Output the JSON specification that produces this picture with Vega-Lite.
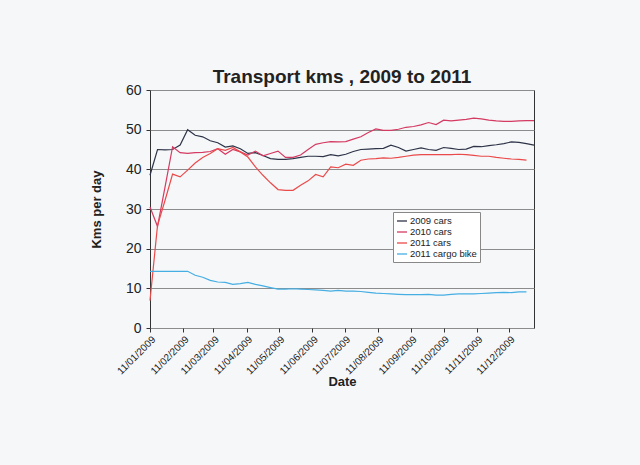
{
  "$schema": "https://vega.github.io/schema/vega-lite/v6.json",
  "width": 384,
  "height": 238,
  "autosize": {"type": "none"},
  "padding": {"left": 150, "top": 90, "right": 106, "bottom": 137},
  "background": "#f6f7f9",
  "config": {
    "font": "Liberation Sans",
    "view": {"stroke": "#333333", "strokeWidth": 1, "fill": "#f6f7f9"}
  },
  "title": {"text": "Transport kms , 2009 to 2011", "fontSize": 19, "fontWeight": "bold", "color": "#222222", "offset": -4},
  "data": {
    "values": [
      {"date": "2009-01-11", "c2009": 38.5, "c2010": 30.5, "c2011": 6.9, "bike": 14.3},
      {"date": "2009-01-18", "c2009": 45.0, "c2010": 25.6, "c2011": 25.9, "bike": 14.3},
      {"date": "2009-01-25", "c2009": 44.9, "c2010": 35.6, "c2011": 32.2, "bike": 14.3},
      {"date": "2009-02-01", "c2009": 45.0, "c2010": 45.7, "c2011": 38.8, "bike": 14.3},
      {"date": "2009-02-08", "c2009": 46.1, "c2010": 44.2, "c2011": 38.1, "bike": 14.3},
      {"date": "2009-02-15", "c2009": 50.0, "c2010": 44.0, "c2011": 39.8, "bike": 14.3},
      {"date": "2009-02-22", "c2009": 48.6, "c2010": 44.2, "c2011": 41.6, "bike": 13.3},
      {"date": "2009-03-01", "c2009": 48.2, "c2010": 44.3, "c2011": 43.0, "bike": 12.8},
      {"date": "2009-03-08", "c2009": 47.2, "c2010": 44.5, "c2011": 44.0, "bike": 12.0},
      {"date": "2009-03-15", "c2009": 46.7, "c2010": 45.2, "c2011": 45.2, "bike": 11.6},
      {"date": "2009-03-22", "c2009": 45.6, "c2010": 43.8, "c2011": 44.8, "bike": 11.5},
      {"date": "2009-03-29", "c2009": 45.9, "c2010": 45.0, "c2011": 45.5, "bike": 11.0},
      {"date": "2009-04-05", "c2009": 45.2, "c2010": 44.4, "c2011": 44.4, "bike": 11.2},
      {"date": "2009-04-12", "c2009": 44.0, "c2010": 43.6, "c2011": 43.1, "bike": 11.5},
      {"date": "2009-04-19", "c2009": 44.2, "c2010": 44.6, "c2011": 40.6, "bike": 11.0},
      {"date": "2009-04-26", "c2009": 43.5, "c2010": 43.4, "c2011": 38.5, "bike": 10.6},
      {"date": "2009-05-03", "c2009": 42.7, "c2010": 44.0, "c2011": 36.6, "bike": 10.2},
      {"date": "2009-05-10", "c2009": 42.5, "c2010": 44.6, "c2011": 34.9, "bike": 9.8},
      {"date": "2009-05-17", "c2009": 42.5, "c2010": 43.0, "c2011": 34.7, "bike": 9.8},
      {"date": "2009-05-24", "c2009": 42.7, "c2010": 43.0, "c2011": 34.7, "bike": 9.9},
      {"date": "2009-05-31", "c2009": 43.0, "c2010": 43.6, "c2011": 36.0, "bike": 9.8},
      {"date": "2009-06-07", "c2009": 43.3, "c2010": 45.0, "c2011": 37.1, "bike": 9.7},
      {"date": "2009-06-14", "c2009": 43.3, "c2010": 46.3, "c2011": 38.7, "bike": 9.6},
      {"date": "2009-06-21", "c2009": 43.2, "c2010": 46.7, "c2011": 38.1, "bike": 9.5},
      {"date": "2009-06-28", "c2009": 43.7, "c2010": 47.0, "c2011": 40.6, "bike": 9.3},
      {"date": "2009-07-05", "c2009": 43.4, "c2010": 46.9, "c2011": 40.4, "bike": 9.5},
      {"date": "2009-07-12", "c2009": 43.8, "c2010": 47.0, "c2011": 41.3, "bike": 9.3},
      {"date": "2009-07-19", "c2009": 44.5, "c2010": 47.6, "c2011": 41.0, "bike": 9.3},
      {"date": "2009-07-26", "c2009": 45.0, "c2010": 48.2, "c2011": 42.3, "bike": 9.2},
      {"date": "2009-08-02", "c2009": 45.1, "c2010": 49.3, "c2011": 42.6, "bike": 9.0},
      {"date": "2009-08-09", "c2009": 45.2, "c2010": 50.2, "c2011": 42.7, "bike": 8.8},
      {"date": "2009-08-16", "c2009": 45.3, "c2010": 49.8, "c2011": 42.9, "bike": 8.7},
      {"date": "2009-08-23", "c2009": 46.1, "c2010": 49.8, "c2011": 42.8, "bike": 8.6},
      {"date": "2009-08-30", "c2009": 45.5, "c2010": 50.1, "c2011": 43.0, "bike": 8.5},
      {"date": "2009-09-06", "c2009": 44.6, "c2010": 50.6, "c2011": 43.3, "bike": 8.4},
      {"date": "2009-09-13", "c2009": 45.0, "c2010": 50.8, "c2011": 43.6, "bike": 8.4},
      {"date": "2009-09-20", "c2009": 45.4, "c2010": 51.2, "c2011": 43.7, "bike": 8.4},
      {"date": "2009-09-27", "c2009": 45.0, "c2010": 51.8, "c2011": 43.7, "bike": 8.5},
      {"date": "2009-10-04", "c2009": 44.8, "c2010": 51.3, "c2011": 43.7, "bike": 8.3},
      {"date": "2009-10-11", "c2009": 45.5, "c2010": 52.4, "c2011": 43.7, "bike": 8.3},
      {"date": "2009-10-18", "c2009": 45.3, "c2010": 52.2, "c2011": 43.7, "bike": 8.5},
      {"date": "2009-10-25", "c2009": 45.0, "c2010": 52.4, "c2011": 43.8, "bike": 8.6},
      {"date": "2009-11-01", "c2009": 45.1, "c2010": 52.6, "c2011": 43.7, "bike": 8.6},
      {"date": "2009-11-08", "c2009": 45.8, "c2010": 52.9, "c2011": 43.5, "bike": 8.6},
      {"date": "2009-11-15", "c2009": 45.7, "c2010": 52.7, "c2011": 43.3, "bike": 8.7},
      {"date": "2009-11-22", "c2009": 46.0, "c2010": 52.4, "c2011": 43.3, "bike": 8.8},
      {"date": "2009-11-29", "c2009": 46.2, "c2010": 52.2, "c2011": 43.0, "bike": 8.9},
      {"date": "2009-12-06", "c2009": 46.5, "c2010": 52.1, "c2011": 42.8, "bike": 9.0},
      {"date": "2009-12-13", "c2009": 46.9, "c2010": 52.1, "c2011": 42.6, "bike": 8.9},
      {"date": "2009-12-20", "c2009": 46.8, "c2010": 52.2, "c2011": 42.5, "bike": 9.1},
      {"date": "2009-12-27", "c2009": 46.5, "c2010": 52.3, "c2011": 42.3, "bike": 9.1},
      {"date": "2010-01-03", "c2009": 46.1, "c2010": 52.3, "c2011": null, "bike": null}
    ]
  },
  "transform": [
    {"fold": ["c2009", "c2010", "c2011", "bike"], "as": ["series", "kms"]},
    {"filter": "datum.kms != null"}
  ],
  "mark": {"type": "line", "strokeWidth": 1.2},
  "encoding": {
    "x": {
      "field": "date",
      "type": "temporal",
      "scale": {
        "type": "utc",
        "domain": [
          {"year": 2009, "month": 1, "date": 11, "utc": true},
          {"year": 2010, "month": 1, "date": 3, "utc": true}
        ]
      },
      "axis": {
        "title": "Date",
        "titleFontSize": 13,
        "titleFontWeight": "bold",
        "titleColor": "#222222",
        "titlePadding": 0,
        "values": [
          {"year": 2009, "month": 1, "date": 11, "utc": true},
          {"year": 2009, "month": 2, "date": 11, "utc": true},
          {"year": 2009, "month": 3, "date": 11, "utc": true},
          {"year": 2009, "month": 4, "date": 11, "utc": true},
          {"year": 2009, "month": 5, "date": 11, "utc": true},
          {"year": 2009, "month": 6, "date": 11, "utc": true},
          {"year": 2009, "month": 7, "date": 11, "utc": true},
          {"year": 2009, "month": 8, "date": 11, "utc": true},
          {"year": 2009, "month": 9, "date": 11, "utc": true},
          {"year": 2009, "month": 10, "date": 11, "utc": true},
          {"year": 2009, "month": 11, "date": 11, "utc": true},
          {"year": 2009, "month": 12, "date": 11, "utc": true}
        ],
        "labelExpr": "utcFormat(datum.value, '%d/%m/%Y')",
        "labelOverlap": false,
        "labelBound": false,
        "labelFlush": false,
        "labelAngle": -45,
        "labelFontSize": 10,
        "labelColor": "#222222",
        "labelPadding": 2,
        "tickSize": 4,
        "tickColor": "#333333",
        "grid": false,
        "domain": false
      }
    },
    "y": {
      "field": "kms",
      "type": "quantitative",
      "scale": {"domain": [0, 60], "nice": false},
      "axis": {
        "title": "Kms per day",
        "titleFontSize": 13,
        "titleFontWeight": "bold",
        "titleColor": "#222222",
        "titlePadding": 22,
        "values": [0, 10, 20, 30, 40, 50, 60],
        "labelFontSize": 14,
        "labelColor": "#222222",
        "labelPadding": 5,
        "tickSize": 4,
        "tickColor": "#333333",
        "domain": false,
        "gridColor": "#8c8c8c",
        "gridWidth": 1
      }
    },
    "color": {
      "field": "series",
      "type": "nominal",
      "scale": {
        "domain": ["c2009", "c2010", "c2011", "bike"],
        "range": ["#2e3448", "#d43a62", "#ea4a4a", "#45aee3"]
      },
      "legend": {
        "title": null,
        "orient": "none",
        "legendX": 243,
        "legendY": 122,
        "labelExpr": "{'c2009': '2009 cars', 'c2010': '2010 cars', 'c2011': '2011 cars', 'bike': '2011 cargo bike'}[datum.label]",
        "labelFontSize": 9.5,
        "labelColor": "#222222",
        "labelOffset": 2,
        "symbolType": "stroke",
        "symbolSize": 100,
        "symbolStrokeWidth": 1.3,
        "rowPadding": 0,
        "padding": 3,
        "fillColor": "#ffffff",
        "strokeColor": "#888888"
      }
    }
  }
}
